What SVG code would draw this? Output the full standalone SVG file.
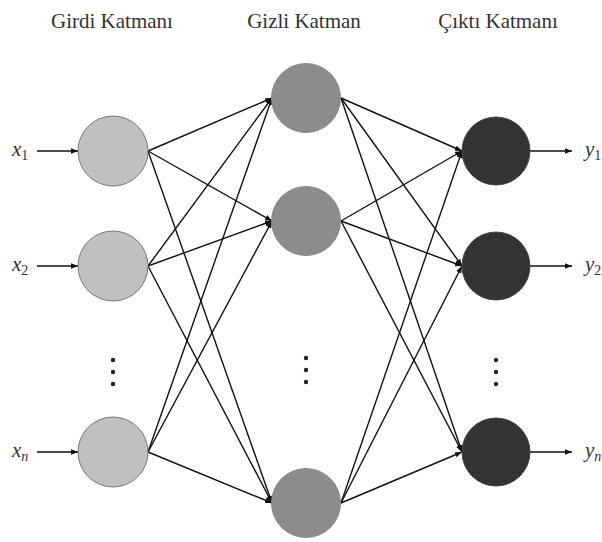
<svg xmlns="http://www.w3.org/2000/svg" width="602" height="542" viewBox="0 0 602 542">
<defs>
<marker id="ah" viewBox="0 0 10 10" refX="10" refY="5" markerWidth="7" markerHeight="7" markerUnits="userSpaceOnUse" orient="auto"><path d="M0,1 L10,5 L0,9 z" fill="#111"/></marker>
</defs>
<style>
.t{font-family:"Liberation Serif",serif;font-size:21px;fill:#333;text-anchor:middle}
.v{font-family:"Liberation Serif",serif;font-style:italic;font-size:21px;fill:#333}
.s{font-size:14px;font-style:normal}
.si{font-size:14px;font-style:italic}
.c line{stroke:#111;stroke-width:1.4;marker-end:url(#ah)}
.in{fill:#c0c0c0;stroke:#777;stroke-width:1}
.hd{fill:#8c8c8c;stroke:#888;stroke-width:1}
.ou{fill:#333;stroke:#444;stroke-width:1}
.d{fill:#222}
</style>
<rect width="602" height="542" fill="#fff"/>
<g id="titles">
<text class="t" x="112" y="28">Girdi Katmanı</text>
<text class="t" x="304" y="28">Gizli Katman</text>
<text class="t" x="498" y="28">Çıktı Katmanı</text>
</g>
<g id="connectors" class="c">
<line x1="37" y1="151" x2="78" y2="151"/>
<line x1="37" y1="266" x2="78" y2="266"/>
<line x1="37" y1="452" x2="78" y2="452"/>
<line x1="148" y1="151" x2="272" y2="98"/>
<line x1="148" y1="151" x2="272" y2="221"/>
<line x1="148" y1="151" x2="272" y2="503"/>
<line x1="148" y1="266" x2="272" y2="98"/>
<line x1="148" y1="266" x2="272" y2="221"/>
<line x1="148" y1="266" x2="272" y2="503"/>
<line x1="148" y1="452" x2="272" y2="98"/>
<line x1="148" y1="452" x2="272" y2="221"/>
<line x1="148" y1="452" x2="272" y2="503"/>
<line x1="341" y1="98" x2="462" y2="151"/>
<line x1="341" y1="98" x2="462" y2="266"/>
<line x1="341" y1="98" x2="462" y2="452"/>
<line x1="341" y1="221" x2="462" y2="151"/>
<line x1="341" y1="221" x2="462" y2="266"/>
<line x1="341" y1="221" x2="462" y2="452"/>
<line x1="341" y1="503" x2="462" y2="151"/>
<line x1="341" y1="503" x2="462" y2="266"/>
<line x1="341" y1="503" x2="462" y2="452"/>
<line x1="530" y1="151" x2="572" y2="151"/>
<line x1="530" y1="266" x2="572" y2="266"/>
<line x1="530" y1="452" x2="572" y2="452"/>
</g>
<g id="in1"><circle class="in" cx="113" cy="151" r="35"/></g>
<g id="in2"><circle class="in" cx="113" cy="266" r="35"/></g>
<g id="inn"><circle class="in" cx="113" cy="452" r="35"/></g>
<g id="hd1"><circle class="hd" cx="306" cy="98" r="34.5"/></g>
<g id="hd2"><circle class="hd" cx="306" cy="221" r="34.5"/></g>
<g id="hdn"><circle class="hd" cx="306" cy="503" r="34.5"/></g>
<g id="ou1"><circle class="ou" cx="496" cy="151" r="34"/></g>
<g id="ou2"><circle class="ou" cx="496" cy="266" r="34"/></g>
<g id="oun"><circle class="ou" cx="496" cy="452" r="34"/></g>
<g id="dots">
<circle class="d" cx="113" cy="360" r="2.2"/><circle class="d" cx="113" cy="372" r="2.2"/><circle class="d" cx="113" cy="384" r="2.2"/>
<circle class="d" cx="306" cy="358" r="2.2"/><circle class="d" cx="306" cy="370" r="2.2"/><circle class="d" cx="306" cy="382" r="2.2"/>
<circle class="d" cx="496" cy="360" r="2.2"/><circle class="d" cx="496" cy="372" r="2.2"/><circle class="d" cx="496" cy="384" r="2.2"/>
</g>
<g id="labels">
<text class="v" x="12" y="156">x<tspan class="s" dy="4">1</tspan></text>
<text class="v" x="12" y="271">x<tspan class="s" dy="4">2</tspan></text>
<text class="v" x="12" y="457">x<tspan class="si" dy="4">n</tspan></text>
<text class="v" x="585" y="156">y<tspan class="s" dy="4">1</tspan></text>
<text class="v" x="585" y="271">y<tspan class="s" dy="4">2</tspan></text>
<text class="v" x="585" y="457">y<tspan class="si" dy="4">n</tspan></text>
</g>
</svg>
